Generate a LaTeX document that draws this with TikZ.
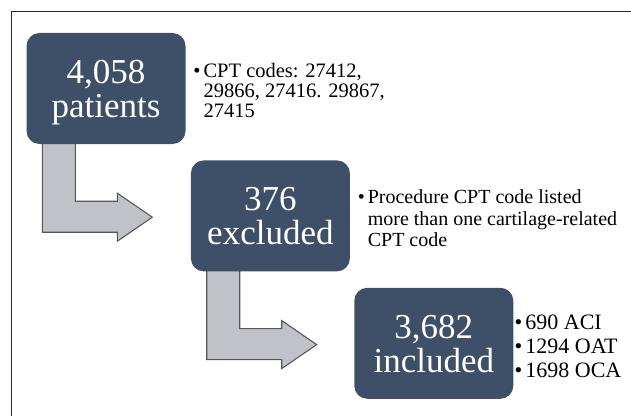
\documentclass[tikz,border=0pt]{standalone}
\usepackage{fontspec}
\setmainfont{Liberation Serif}
\usetikzlibrary{positioning,backgrounds}
\definecolor{boxslate}{RGB}{62,80,104}
\definecolor{arrowgray}{RGB}{193,194,200}
\definecolor{arrowedge}{RGB}{85,86,92}
\definecolor{framegray}{RGB}{40,40,40}
\newcommand{\twoline}[2]{\rule{0pt}{32pt}#1\\#2\rule[-8pt]{0pt}{8pt}}
\newcommand{\notes}[1]{\begin{tabular}{@{}l@{\hspace{3pt}}l@{}}#1\end{tabular}}
\newcommand{\bentarrow}[1]{%
  \draw[arrowbody,shift={(#1.south west)}] (16,2) -- (49,2) -- (49,-57) -- (91,-57) -- (91,-49)
    -- (126,-73) -- (91,-97) -- (91,-88) -- (16,-88) -- cycle;}

\begin{document}
\begin{tikzpicture}[x=1pt,y=1pt,
    countbox/.style={fill=boxslate,text=white,rounded corners=13pt,minimum width=159pt,minimum height=111pt,
      align=center,font=\fontsize{35}{34}\selectfont},
    notelist/.style={inner sep=0pt,yshift=-5pt},
    arrowbody/.style={fill=arrowgray,draw=arrowedge,line width=1.1pt,line join=miter}]
    \useasboundingbox (0,0) rectangle (631,416);
    \draw[framegray,line width=1.5pt] (11.5,0) -- (11.5,404.5) -- (631,404.5);
    \node[countbox] (patients) at (106,327.5) {\twoline{4,058}{patients}};
    \node[countbox,below right=16pt and 5pt of patients] (excluded) {\twoline{376}{excluded}};
    \node[countbox,below right=16pt and 4pt of excluded] (included) {\twoline{3,682}{included}};
    \node[notelist,right=7.5pt of patients,font=\fontsize{20.5}{20}\selectfont] (codes)
      {\notes{\textbullet & CPT codes: 27412,\\ & 29866, 27416. 29867,\\ & 27415}};
    \node[notelist,right=7.5pt of excluded,font=\fontsize{20}{21.5}\selectfont] (reason)
      {\notes{\textbullet & Procedure CPT code listed\\ & more than one cartilage-related\\ & CPT code}};
    \node[notelist,right=1pt of included,font=\fontsize{22}{24}\selectfont] (groups)
      {\notes{\textbullet & 690 ACI\\ \textbullet & 1294 OAT\\ \textbullet & 1698 OCA}};
    \begin{scope}[on background layer]
      \bentarrow{patients}
      \bentarrow{excluded}
    \end{scope}
  \end{tikzpicture}
\end{document}
